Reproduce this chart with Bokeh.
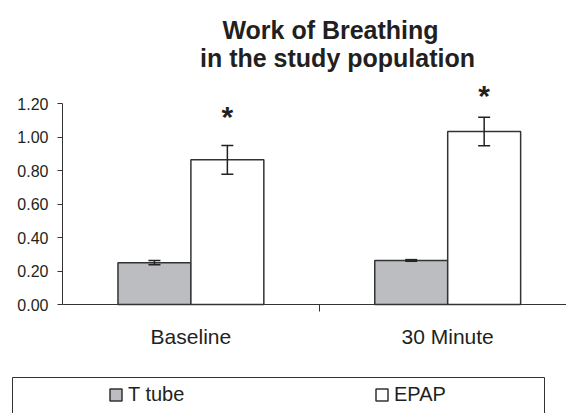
from bokeh.plotting import figure
from bokeh.models import (Range1d, FixedTicker, PrintfTickFormatter, Whisker, ColumnDataSource,
                          TeeHead, Label, Legend, LegendItem, BoxAnnotation)
from bokeh.core.properties import value
from bokeh.embed import file_html
from bokeh.resources import INLINE

# ---- data ----
categories = ["Baseline", "30 Minute"]
series_names = ["T tube", "EPAP"]
ttube = [0.25, 0.263]
ttube_err = [0.012, 0.005]
epap = [0.864, 1.033]
epap_err = [0.086, 0.085]
sig_y = [1.12, 1.25]          # height of the significance asterisks
y_ticks = [0.0, 0.2, 0.4, 0.6, 0.8, 1.0, 1.2]
title_lines = ["Work of Breathing", "in the study population"]

FONT = "Liberation Sans"
TXT = "#231f20"
GRAY = "#bcbdc0"
EDGE = "#333333"

# ---- canvas geometry (pixels) ----
W, H = 566, 413
ORIGIN_X, ORIGIN_Y = 62, 304        # pixel of data (0, 0), from top-left
PX_PER_X, PX_PER_Y = 256.8, 167.5   # pixels per category / per unit of y

x_range = Range1d(-ORIGIN_X / PX_PER_X, (W - ORIGIN_X) / PX_PER_X)
y_range = Range1d(-(H - ORIGIN_Y) / PX_PER_Y, ORIGIN_Y / PX_PER_Y)

cat_x = [i + 0.5 for i in range(len(categories))]
dodge = 0.142
bar_w = 0.284
tt_x = [c - dodge for c in cat_x]
ep_x = [c + dodge for c in cat_x]

p = figure(width=W, height=H, output_backend="svg", toolbar_location=None,
           x_range=x_range, y_range=y_range,
           min_border_left=0, min_border_right=0, min_border_top=0, min_border_bottom=0)
p.outline_line_color = None
p.grid.visible = False

# two-line title (screen pixels measured from the bottom-left of the canvas)
for txt, (sx, sy) in zip(title_lines, [(330, H - 29), (337, H - 57)]):
    p.add_layout(Label(x=sx, y=sy, x_units="screen", y_units="screen", text=txt,
                       text_font=FONT, text_font_size="25px", text_font_style="bold",
                       text_color=TXT, text_align="center", text_baseline="alphabetic"))

r_tt = p.vbar(x=tt_x, top=ttube, width=bar_w, fill_color=GRAY, line_color=EDGE, line_width=1.5)
r_ep = p.vbar(x=ep_x, top=epap, width=bar_w, fill_color="white", line_color=EDGE, line_width=1.5)

for xs, vals, errs in ((tt_x, ttube, ttube_err), (ep_x, epap, epap_err)):
    src = ColumnDataSource(dict(x=xs, upper=[v + e for v, e in zip(vals, errs)],
                                lower=[v - e for v, e in zip(vals, errs)]))
    w = Whisker(base="x", upper="upper", lower="lower", source=src, dimension="height",
                level="annotation", line_color="#222222", line_width=1.5,
                upper_head=TeeHead(size=12, line_color="#222222", line_width=1.5),
                lower_head=TeeHead(size=12, line_color="#222222", line_width=1.5))
    p.add_layout(w)

p.text(x=ep_x, y=sig_y, text=["*"] * len(ep_x), text_font=value(FONT), text_font_style="bold",
       text_font_size="30px", text_align="center", text_baseline="middle", text_color=TXT)

# y axis, drawn at x = 0 inside the canvas
ya = p.yaxis[0]
ya.fixed_location = 0
ya.ticker = FixedTicker(ticks=y_ticks, minor_ticks=[])
ya.formatter = PrintfTickFormatter(format="%.2f")
ya.bounds = (0, 1.2)
ya.major_tick_out = 5
ya.major_tick_in = 0
ya.minor_tick_out = 0
ya.minor_tick_in = 0
ya.major_label_standoff = 9
ya.major_label_text_font = FONT
ya.major_label_text_font_size = "16px"
ya.major_label_text_color = TXT
ya.axis_line_color = EDGE
ya.major_tick_line_color = EDGE

# x axis, drawn at y = 0, running to the right edge
xa = p.xaxis[0]
xa.fixed_location = 0
xa.bounds = (0, x_range.end)
xa.ticker = FixedTicker(ticks=cat_x, minor_ticks=[1.0])
xa.major_label_overrides = {c: lab for c, lab in zip(cat_x, categories)}
xa.major_tick_out = 0
xa.major_tick_in = 0
xa.minor_tick_out = 7
xa.minor_tick_in = 0
xa.major_label_standoff = 13
xa.major_label_text_font = FONT
xa.major_label_text_font_size = "21px"
xa.major_label_text_color = TXT
xa.axis_line_color = EDGE
xa.minor_tick_line_color = EDGE

# legend box (bottom edge runs off the picture, as in the original)
p.add_layout(BoxAnnotation(left=12, right=544, top=H - 377, bottom=-10,
                           left_units="screen", right_units="screen",
                           top_units="screen", bottom_units="screen",
                           fill_alpha=0, line_color=EDGE, line_width=1, line_alpha=1))

legend = Legend(items=[LegendItem(label=series_names[0], renderers=[r_tt]),
                       LegendItem(label=series_names[1], renderers=[r_ep])],
                location=(108, 7), orientation="horizontal", padding=0, margin=0, spacing=126,
                glyph_width=15, glyph_height=15, label_width=120, label_height=15,
                label_standoff=5, label_text_font=FONT, label_text_font_size="20px",
                label_text_color=TXT, border_line_color=None, background_fill_alpha=0)
p.add_layout(legend, "center")

open("out.html", "w").write(file_html(p, INLINE))
